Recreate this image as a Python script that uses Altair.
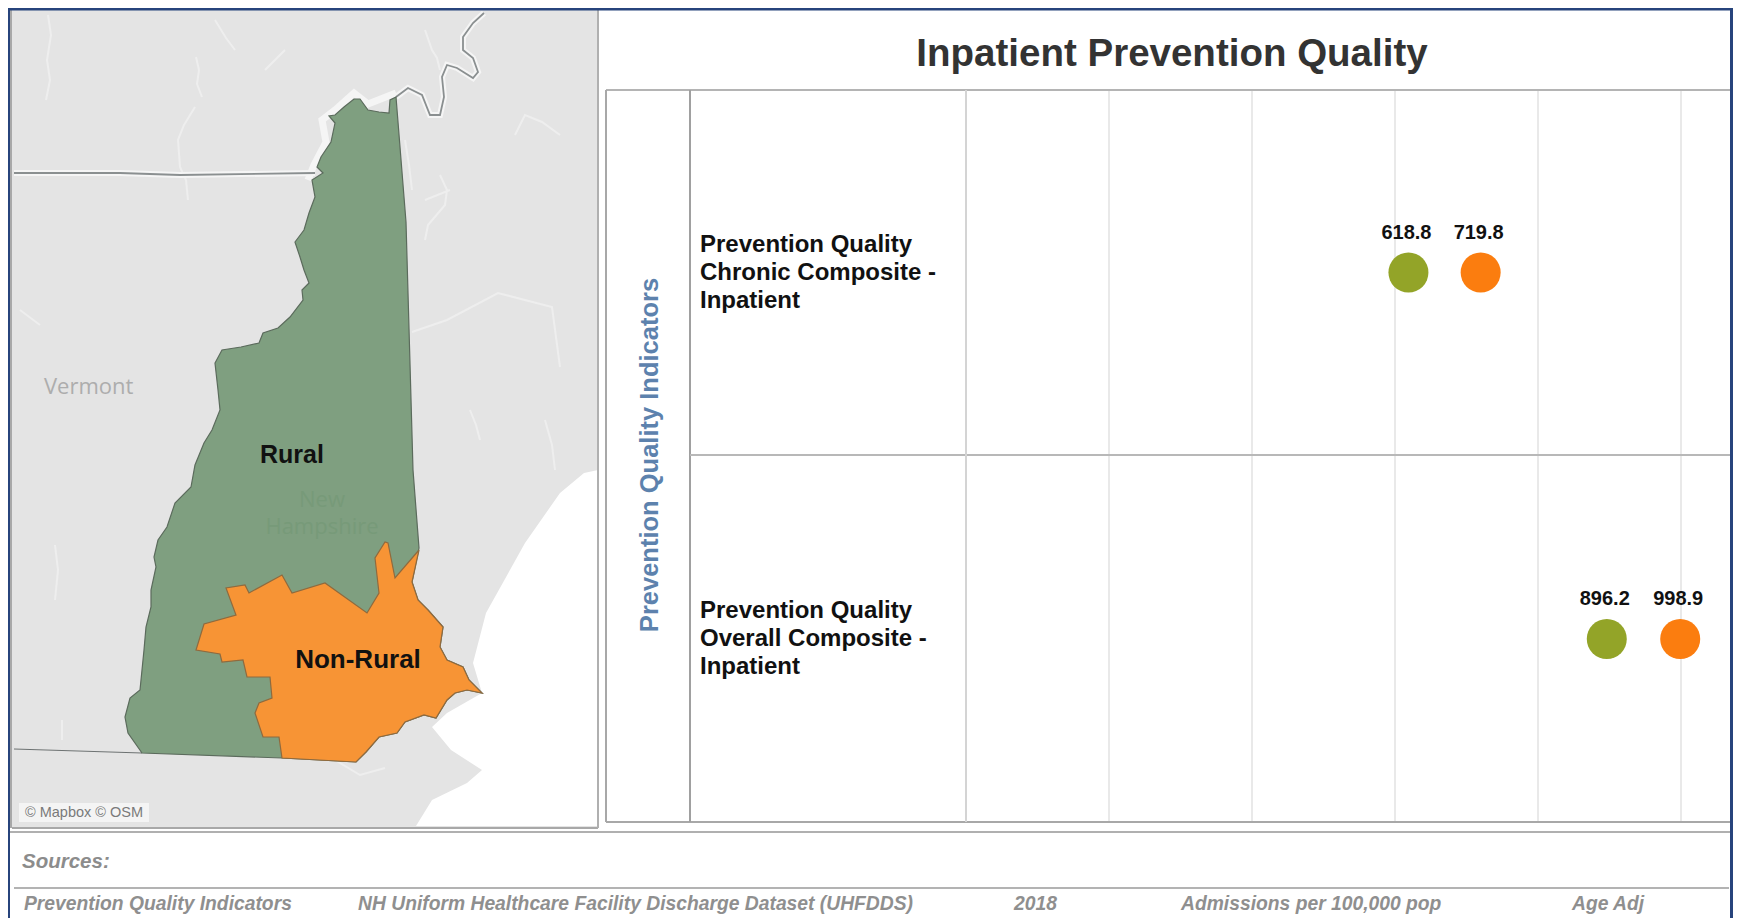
import altair as alt
import pandas as pd

# ---------- chart values ----------
indicators = ["Prevention Quality Chronic Composite - Inpatient",
              "Prevention Quality Overall Composite - Inpatient"]
indicator_lines = ["Prevention Quality\nChronic Composite -\nInpatient",
                   "Prevention Quality\nOverall Composite -\nInpatient"]
rural_values = [618.8, 896.2]
non_rural_values = [719.8, 998.9]
grid_ticks = [0, 200, 400, 600, 800, 1000]
footer_items = ["Prevention Quality Indicators",
                "NH Uniform Healthcare Facility Discharge Dataset (UHFDDS)",
                "2018", "Admissions per 100,000 pop", "Age Adj"]
footer_x = [24, 358, 1014, 1181, 1572]

# ---------- map outlines, in image units of the source map ----------
nh_west = [(396,97),(390,100),(389,113),(379,112),(368,110),(360,99),(354,99),(344,107),(335,115),(329,116),
           (335,123),(331,142),(321,157),(317,167),(323,173),(312,180),(315,197),(309,213),(304,230),(295,242),
           (300,257),(304,270),(309,283),(302,290),(303,300),(290,317),(278,328),(263,333),(259,343),(241,347),
           (222,350),(215,363),(218,390),(220,410),(212,430),(204,443),(195,465),(191,487),(175,503),(167,527),
           (158,540),(154,557),(156,567),(151,590),(151,607),(146,627),(144,650),(142,670),(140,690),(130,698),
           (125,717),(128,733),(142,753)]
nh_south = [(282,758),(356,762)]
nh_coast = [(366,752),(379,737),(397,733),(405,722),(424,715),(436,718),(447,700),(455,693),(467,690),(482,693),
            (469,680),(463,667),(447,660),(440,647),(443,627),(428,610),(418,600),(412,582),(419,548)]
nh_east = [(413,470),(406,222)]
non_rural = [(419,550),(395,578),(388,543),(385,542),(375,558),(379,593),(367,613),(325,583),(292,593),(282,575),
             (249,593),(245,585),(226,588),(236,615),(204,624),(196,650),(220,654),(222,662),(243,660),(247,677),
             (270,677),(272,698),(259,703),(255,713),(263,737),(279,737),(282,758),(356,762),(366,752),(379,737),
             (397,733),(405,722),(424,715),(436,718),(447,700),(455,693),(467,690),(482,693),(469,680),(463,667),
             (447,660),(440,647),(443,627),(428,610),(418,600),(412,582)]
sea = [(416,826),(598,826),(598,470),(584,473),(560,493),(525,543),(486,613),(473,663),(482,693),(447,713),
       (432,727),(451,750),(482,770),(467,783),(432,800)]
land_box = [(12,9),(598,9),(598,828),(12,828)]
halo_lines = [[(14,173),(120,173),(180,175),(315,173)],
              [(396,97),(408,88),(422,95),(430,115),(440,115),(444,97),(442,77),(447,65),(457,68),(473,78),
               (478,72),(473,58),(463,50),(463,37),(473,23),(484,13)]]
nh_halo = [[(396,93),(368,104),(354,93),(335,110),(322,120),(326,142),(314,165),(308,180)]]
south_line = [[(14,749),(142,753)]]
rivers = [[(48,15),(51,35),(47,60),(50,80),(46,100)],[(196,57),(199,70),(197,84),(202,97)],
          [(195,107),(184,125),(178,140),(180,167),(186,180),(188,200)],
          [(215,20),(226,38),(235,50)],[(265,70),(275,60),(285,50)],[(425,30),(432,50),(437,58),(440,70)],
          [(405,140),(409,165),(412,190)],[(440,175),(447,190),(445,205),(428,225),(425,240)],
          [(515,135),(525,115),(542,122),(560,135)],[(412,332),(447,320),(498,293),(552,307),(560,367)],
          [(20,310),(40,325)],[(55,545),(58,570),(55,600)],[(470,410),(476,425),(480,440)],[(545,420),(552,445),(555,470)],
          [(62,720),(62,740)],[(425,200),(450,190)],[(335,760),(360,775),(385,768)]]

# ---------- assembly ----------
W, H = 1725, 910
X0, X1000 = 958.0, 1673.0
ppu = (X1000 - X0) / 1000
x_scale = alt.Scale(domain=[-X0 / ppu, (W - X0) / ppu], nice=False, zero=False)
Y0, Y1 = 264.5, 631.0
ppr = Y1 - Y0
y_scale = alt.Scale(domain=[(H - Y0) / ppr, -Y0 / ppr], nice=False, zero=False)
FONT = "Liberation Sans"
proj = alt.Projection(type="identity", scale=1, translate=[-8, -8])


def feat(kind, coords):
    return {"type": "Feature", "properties": {}, "geometry": {"type": kind, "coordinates": coords}}


def closed(points):
    pts = [list(p) for p in points]
    return [pts + [pts[0]]]


def shape(kind, coords, **mark):
    data = alt.Data(values=[feat(kind, coords)])
    return alt.Chart(data).mark_geoshape(**mark).properties(projection=proj)


def lines(paths, **mark):
    coords = [[list(p) for p in path] for path in paths]
    return shape("MultiLineString", coords, filled=False, **mark)


def rule(x, x2, y, y2, color, width):
    return alt.Chart(pd.DataFrame({"a": [0]})).mark_rule(color=color, strokeWidth=width).encode(
        x=alt.value(x - 8), x2=alt.value(x2 - 8), y=alt.value(y - 8), y2=alt.value(y2 - 8))


def label(text, x, y, size, color, bold=True, italic=False, align="left", angle=0, font=FONT, opacity=1):
    return alt.Chart(pd.DataFrame({"t": [text]})).mark_text(
        font=font, fontSize=size, color=color, align=align, baseline="middle", angle=angle, opacity=opacity,
        fontWeight="bold" if bold else "normal", fontStyle="italic" if italic else "normal"
    ).encode(x=alt.value(x - 8), y=alt.value(y - 8), text="t:N")


nh_outline = nh_west + nh_south + nh_coast + nh_east

layers = [
    shape("Polygon", closed(land_box), fill="#e4e4e4", stroke=None),
    lines(rivers, stroke="#eeeeee", strokeWidth=2),
    shape("Polygon", closed(sea), fill="#ffffff", stroke=None),
    lines(nh_halo, stroke="#f5f5f5", strokeWidth=7),
    lines(halo_lines, stroke="#f5f5f5", strokeWidth=6),
    lines(halo_lines, stroke="#8a8f90", strokeWidth=1.8),
    lines(south_line, stroke="#6d7272", strokeWidth=1.2),
    shape("Polygon", closed(nh_outline), fill="#7f9f80", stroke="#5b6b5c", strokeWidth=1.2),
    shape("Polygon", closed(non_rural), fill="#f79435", stroke="#8f6a3e", strokeWidth=1.2),
    label("Vermont", 44, 387, 22, "#adadad", bold=False, font="Open Sans"),
    label("New", 322, 500, 22, "#779a79", bold=False, align="center", font="Open Sans"),
    label("Hampshire", 322, 527, 22, "#779a79", bold=False, align="center", font="Open Sans"),
    label("Rural", 292, 455, 25, "#111111", align="center"),
    label("Non-Rural", 358, 660, 26, "#111111", align="center"),
    alt.Chart(pd.DataFrame({"a": [0]})).mark_rect(color="#f4f4f4").encode(
        x=alt.value(19 - 8), x2=alt.value(149 - 8), y=alt.value(803 - 8), y2=alt.value(822 - 8)),
    label("© Mapbox © OSM", 25, 813, 14.5, "#7a7a7a", bold=False),
    rule(12, 598, 9, 9, "#b0b0b0", 2), rule(12, 598, 828, 828, "#a8a8a8", 2),
    rule(11, 11, 9, 828, "#a8a8a8", 2), rule(598, 598, 9, 828, "#b0b0b0", 2),
]

# panel
layers += [
    alt.Chart(pd.DataFrame({"v": grid_ticks})).mark_rule(color="#e9e9e9", strokeWidth=2).encode(
        x=alt.X("v:Q", scale=x_scale, axis=None), y=alt.value(90 - 8), y2=alt.value(822 - 8)),
    rule(606, 1738, 90, 90, "#b4b4b4", 2),
    rule(606, 1738, 822, 822, "#a8a8a8", 2),
    rule(606, 606, 90, 822, "#a8a8a8", 2),
    rule(690, 690, 90, 822, "#a0a0a0", 2),
    rule(690, 1738, 455, 455, "#b8b8b8", 2),
    rule(966, 966, 90, 822, "#d4d4d4", 2),
    rule(8, 1741, 832, 832, "#b0b0b0", 2),
    rule(14, 1729, 888, 888, "#9a9a9a", 1.5),
    label("Inpatient Prevention Quality", 1172, 54, 38.5, "#333333", align="center"),
    label("Prevention Quality Indicators", 650, 455, 25.5, "#5d82ad", align="center", angle=270),
    label("Sources:", 22, 862, 20.5, "#8c8c8c", italic=True),
]
for text, x in zip(footer_items, footer_x):
    layers.append(label(text, x, 904, 19.3, "#8f8f8f", italic=True))

rows = pd.DataFrame({"row": [0, 1], "label": indicators, "lines": indicator_lines,
                     "rural": rural_values, "non_rural": non_rural_values})
long = pd.concat([
    rows.assign(value=rows["rural"], group="Rural"),
    rows.assign(value=rows["non_rural"], group="Non-Rural"),
])
base = alt.Chart(long)
color = alt.Color("group:N", scale=alt.Scale(domain=["Rural", "Non-Rural"], range=["#93a428", "#fb7d0f"]), legend=None)
layers += [
    alt.Chart(rows).mark_text(font=FONT, fontSize=24, fontWeight="bold", color="#111111", align="left",
                              baseline="middle", lineBreak="\n", lineHeight=28, dy=-28).encode(
        x=alt.value(700 - 8), y=alt.Y("row:Q", scale=y_scale, axis=None), text="lines:N"),
    base.mark_point(filled=True, size=1600, opacity=1).encode(
        x=alt.X("value:Q", scale=x_scale, axis=None), y=alt.Y("row:Q", scale=y_scale, axis=None), color=color),
    base.mark_text(font=FONT, fontSize=20, fontWeight="bold", color="#111111", dy=-40, dx=-2).encode(
        x=alt.X("value:Q", scale=x_scale, axis=None), y=alt.Y("row:Q", scale=y_scale, axis=None),
        text=alt.Text("value:Q", format=".1f")),
    rule(1, 1741, 9, 9, "#27447c", 3),
    rule(9, 9, 8, 918, "#27447c", 2),
    rule(1731.5, 1731.5, 8, 918, "#27447c", 3),
]

chart = alt.layer(*layers).properties(
    width=W, height=H, padding=0, autosize=alt.AutoSizeParams(type="none"), background="#ffffff"
).configure_view(stroke=None)

chart.save("out.html", embed_options={"renderer": "svg", "actions": False})
